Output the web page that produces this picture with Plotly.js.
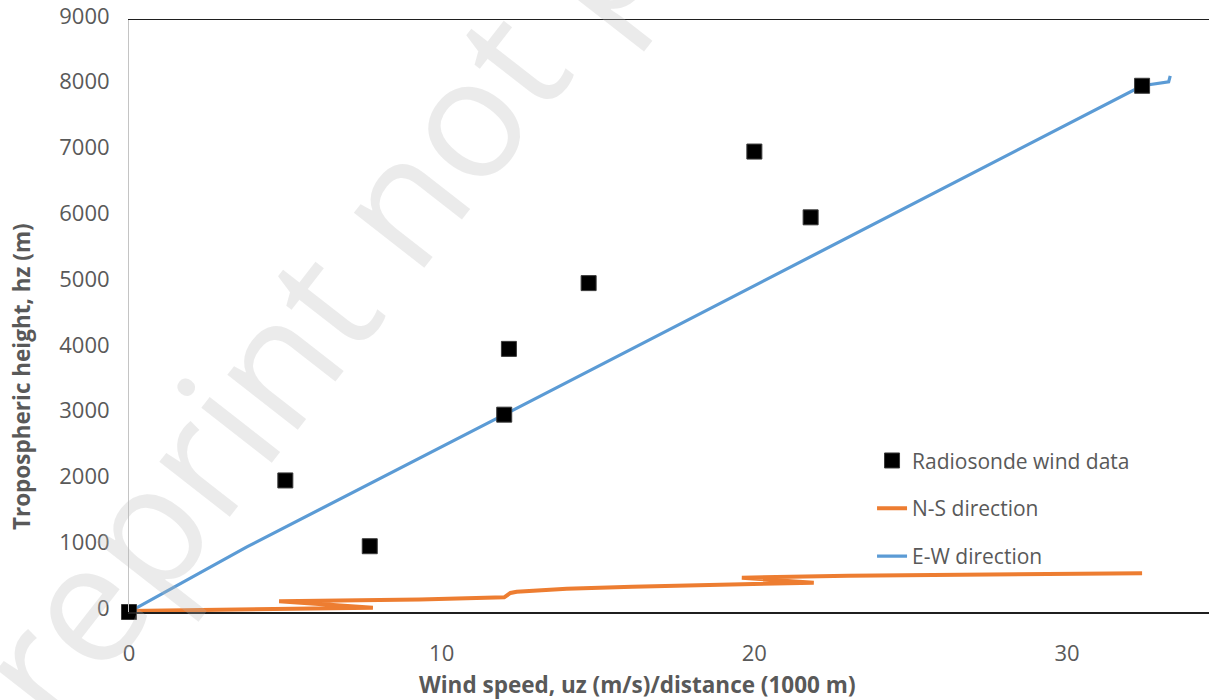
<!DOCTYPE html>
<html>
<head>
<meta charset="utf-8">
<script src="https://cdn.plot.ly/plotly-3.0.1.min.js"></script>
<style>
  html, body { margin: 0; padding: 0; background: #ffffff; overflow: hidden; }
  #chart { width: 1209px; height: 700px; }
</style>
</head>
<body>
<div id="chart"></div>
<script>
// Radiosonde observations: wind speed (m/s per 1000 m) against height (m)
const radiosondeSpeed  = [0, 7.7, 5.0, 12.0, 12.15, 14.7, 21.8, 20.0, 32.4];
const radiosondeHeight = [0, 1000, 2000, 3000, 4000, 5000, 6000, 7000, 8000];

// Modelled N-S component
const nsSpeed  = [0, 6.1, 7.8, 4.8, 9.3, 12.0, 12.2, 12.4, 14.0, 16.1, 19.3, 21.9, 19.6, 23.0, 32.4];
const nsHeight = [15, 50, 66, 163, 190, 224, 290, 309, 352, 385, 416, 445, 521, 552, 588];

// Modelled E-W component
const ewSpeed  = [0, 3.77, 12.0, 20.15, 32.4, 33.25, 33.3];
const ewHeight = [0, 990, 3000, 5000, 8000, 8060, 8150];

const yTicks = [0, 1000, 2000, 3000, 4000, 5000, 6000, 7000, 8000, 9000];
const xTicks = [0, 10, 20, 30];

const labelColor = '#595959';
const fontFamily = '"Open Sans", "Noto Sans", sans-serif';

const traces = [
  {
    name: 'E-W direction',
    x: ewSpeed, y: ewHeight,
    type: 'scatter', mode: 'lines',
    line: { color: '#5B9BD5', width: 3.2 },
    legendrank: 3, legendgroup: 'ew',
    cliponaxis: false
  },
  {
    name: 'N-S direction',
    x: nsSpeed, y: nsHeight,
    type: 'scatter', mode: 'lines',
    line: { color: '#ED7D31', width: 4 },
    legendrank: 2, legendgroup: 'ns',
    cliponaxis: false
  },
  {
    name: 'Radiosonde wind data',
    x: radiosondeSpeed, y: radiosondeHeight,
    type: 'scatter', mode: 'markers',
    marker: { symbol: 'square', size: 15, color: '#000000', line: { color: '#3a3a3a', width: 1 } },
    legendrank: 1, legendgroup: 'rs',
    cliponaxis: false
  }
];

const layout = {
  width: 1209, height: 700,
  margin: { l: 129, r: 0, t: 20, b: 88 },
  paper_bgcolor: '#ffffff',
  plot_bgcolor: '#ffffff',
  font: { family: fontFamily, size: 21, color: labelColor },
  showlegend: true,
  legend: {
    x: 0.688, xanchor: 'left',
    y: 0.29, yanchor: 'top',
    bgcolor: 'rgba(0,0,0,0)',
    font: { family: fontFamily, size: 21, color: labelColor },
    tracegroupgap: 17.5,
    traceorder: 'grouped'
  },
  xaxis: {
    range: [0, 34.54],
    tickvals: xTicks,
    ticktext: xTicks.map(String),
    showgrid: false,
    zeroline: false,
    showline: true,
    mirror: true,
    linecolor: '#1f1f1f',
    linewidth: 1.5,
    ticks: '',
    ticklabelstandoff: 21,
    ticklabeloverflow: 'allow',
    tickfont: { family: fontFamily, size: 22, color: labelColor }
  },
  yaxis: {
    range: [0, 9000],
    tickvals: yTicks,
    ticktext: yTicks.map(String),
    showgrid: false,
    zeroline: false,
    showline: true,
    linecolor: '#c4c4c4',
    linewidth: 1,
    ticks: '',
    ticklabelstandoff: 14,
    ticklabelshift: -4,
    ticklabeloverflow: 'allow',
    tickfont: { family: fontFamily, size: 22, color: labelColor }
  },
  annotations: [
    {
      text: 'Tropospheric height, hz (m)',
      xref: 'paper', yref: 'paper',
      x: -0.099, y: 0.397,
      xanchor: 'center', yanchor: 'middle',
      textangle: -90,
      showarrow: false,
      font: { family: fontFamily, size: 22.5, color: labelColor, weight: 'bold' }
    },
    {
      text: 'Wind speed, uz (m/s)/distance (1000 m)',
      xref: 'paper', yref: 'paper',
      x: 0.471, y: -0.122,
      xanchor: 'center', yanchor: 'middle',
      showarrow: false,
      font: { family: fontFamily, size: 22.5, color: labelColor, weight: 'bold' }
    },
    {
      text: 'Preprint not peer reviewed',
      xref: 'paper', yref: 'paper',
      x: 0.427, y: 1.118,
      xanchor: 'center', yanchor: 'middle',
      textangle: -52,
      showarrow: false,
      font: { family: fontFamily, size: 167, color: 'rgba(183,183,183,0.28)' }
    }
  ]
};

Plotly.newPlot('chart', traces, layout, { displayModeBar: false, staticPlot: true });
</script>
</body>
</html>
